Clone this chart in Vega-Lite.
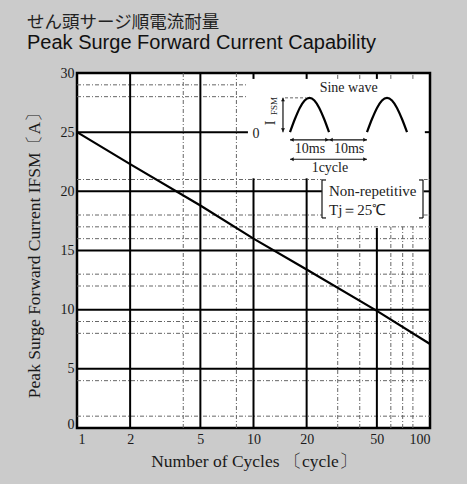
{
  "$schema": "https://vega.github.io/schema/vega-lite/v6.json",
  "width": 353,
  "height": 355,
  "autosize": {"type": "none"},
  "padding": {"left": 77, "top": 73, "right": 37, "bottom": 56},
  "background": "#cbcbcb",
  "title": {
    "text": "せん頭サージ順電流耐量",
    "subtitle": "Peak Surge Forward Current Capability",
    "anchor": "start",
    "frame": "group",
    "dx": -50,
    "offset": 13,
    "font": "Noto Sans CJK JP",
    "fontSize": 17.5,
    "fontWeight": "normal",
    "color": "#222",
    "subtitleFont": "Liberation Sans",
    "subtitleFontSize": 20,
    "subtitleColor": "#111",
    "subtitlePadding": 2
  },
  "config": {
    "view": {"fill": "white", "stroke": "#000", "strokeWidth": 2.5},
    "axis": {
      "labelFont": "Liberation Serif",
      "labelFontSize": 14,
      "labelColor": "#1a1a1a",
      "titleFont": "Liberation Serif",
      "titleFontSize": 17.5,
      "titleFontWeight": "normal",
      "titleColor": "#1a1a1a",
      "ticks": false,
      "domain": false,
      "grid": false
    }
  },
  "encoding": {
    "x": {
      "field": "x", "type": "quantitative",
      "scale": {"type": "log", "domain": [1, 100], "nice": false},
      "axis": {
        "values": [1, 2, 5, 10, 20, 50, 100],
        "format": "d",
        "title": "Number of Cycles 〔cycle〕",
        "labelPadding": 4,
        "titlePadding": 6,
        "labelOffset": {"condition": {"test": "datum.value == 1", "value": 1}, "value": 0}
      }
    },
    "y": {
      "field": "y", "type": "quantitative",
      "scale": {"domain": [0, 30], "nice": false},
      "axis": {
        "values": [0, 5, 10, 15, 20, 25, 30],
        "title": "Peak Surge Forward Current  IFSM〔A〕",
        "labelPadding": 3,
        "titlePadding": 17,
        "labelOffset": {"condition": {"test": "datum.value == 0", "value": -4}, "value": 0}
      }
    }
  },
  "datasets": {
    "curve": [
      {"x": 1, "y": 25},
      {"x": 2, "y": 22.3},
      {"x": 5, "y": 18.8},
      {"x": 10, "y": 16.0},
      {"x": 20, "y": 13.4},
      {"x": 50, "y": 9.9},
      {"x": 100, "y": 7.1}
    ],
    "minorH": [
      {"y": 1, "x": 1, "x2": 100},
      {"y": 4, "x": 1, "x2": 100},
      {"y": 8, "x": 1, "x2": 100},
      {"y": 9, "x": 1, "x2": 100},
      {"y": 12, "x": 1, "x2": 100},
      {"y": 13, "x": 1, "x2": 100},
      {"y": 16, "x": 1, "x2": 100},
      {"y": 17, "x": 1, "x2": 100},
      {"y": 18, "x": 1, "x2": 24.4},
      {"y": 18, "x": 92, "x2": 100},
      {"y": 21, "x": 1, "x2": 24.4},
      {"y": 21, "x": 92, "x2": 100},
      {"y": 28, "x": 1, "x2": 9.3},
      {"y": 29, "x": 1, "x2": 9.3}
    ],
    "minorV": [
      {"x": 4, "y": 0, "y2": 30},
      {"x": 8, "y": 0, "y2": 30},
      {"x": 30, "y": 0, "y2": 17},
      {"x": 40, "y": 0, "y2": 17},
      {"x": 60, "y": 0, "y2": 17},
      {"x": 70, "y": 0, "y2": 17},
      {"x": 80, "y": 0, "y2": 17},
      {"x": 30, "y": 29.5, "y2": 30},
      {"x": 40, "y": 29.5, "y2": 30},
      {"x": 60, "y": 29.5, "y2": 30},
      {"x": 80, "y": 29.5, "y2": 30}
    ],
    "majorH": [
      {"y": 5, "x": 1, "x2": 100},
      {"y": 10, "x": 1, "x2": 100},
      {"y": 15, "x": 1, "x2": 100},
      {"y": 20, "x": 1, "x2": 24.4},
      {"y": 20, "x": 92, "x2": 100},
      {"y": 25, "x": 1, "x2": 9.3},
      {"y": 25, "x": 93.5, "x2": 100}
    ],
    "majorV": [
      {"x": 2, "y": 0, "y2": 30},
      {"x": 5, "y": 0, "y2": 30},
      {"x": 10, "y": 0, "y2": 21.1},
      {"x": 10, "y": 29.5, "y2": 30},
      {"x": 20, "y": 0, "y2": 21.1},
      {"x": 20, "y": 29.5, "y2": 30},
      {"x": 50, "y": 0, "y2": 16.9},
      {"x": 50, "y": 29.5, "y2": 30}
    ],
    "annoRules": [
      {"x": 14.69, "x2": 14.69, "y": 25.0, "y2": 27.9},
      {"x": 16.1, "x2": 26.78, "y": 24.35, "y2": 24.35},
      {"x": 26.78, "x2": 43.96, "y": 24.35, "y2": 24.35},
      {"x": 16.1, "x2": 43.96, "y": 22.71, "y2": 22.71},
      {"x": 24.44, "x2": 24.44, "y": 17.75, "y2": 20.96},
      {"x": 24.44, "x2": 25.75, "y": 20.96, "y2": 20.96},
      {"x": 24.44, "x2": 25.75, "y": 17.75, "y2": 17.75},
      {"x": 91.27, "x2": 91.27, "y": 17.75, "y2": 20.96},
      {"x": 86.65, "x2": 91.27, "y": 20.96, "y2": 20.96},
      {"x": 86.65, "x2": 91.27, "y": 17.75, "y2": 17.75}
    ],
    "annoDash": [
      {"x": 15.09, "x2": 19.84, "y": 27.9, "y2": 27.9}
    ],
    "humps": [
      {"hump": 1, "x": 16.10, "y": 25.0},
      {"hump": 1, "x": 17.16, "y": 26.11},
      {"hump": 1, "x": 18.28, "y": 27.05},
      {"hump": 1, "x": 19.49, "y": 27.68},
      {"hump": 1, "x": 20.77, "y": 27.9},
      {"hump": 1, "x": 22.13, "y": 27.68},
      {"hump": 1, "x": 23.58, "y": 27.05},
      {"hump": 1, "x": 25.13, "y": 26.11},
      {"hump": 1, "x": 26.78, "y": 25.0},
      {"hump": 2, "x": 43.96, "y": 25.0},
      {"hump": 2, "x": 46.92, "y": 26.11},
      {"hump": 2, "x": 50.09, "y": 27.05},
      {"hump": 2, "x": 53.46, "y": 27.68},
      {"hump": 2, "x": 57.07, "y": 27.9},
      {"hump": 2, "x": 60.91, "y": 27.68},
      {"hump": 2, "x": 65.02, "y": 27.05},
      {"hump": 2, "x": 69.40, "y": 26.11},
      {"hump": 2, "x": 74.08, "y": 25.0}
    ],
    "heads": [
      {"x": 16.52, "y": 24.35, "dir": "left"},
      {"x": 26.09, "y": 24.35, "dir": "right"},
      {"x": 27.49, "y": 24.35, "dir": "left"},
      {"x": 42.82, "y": 24.35, "dir": "right"},
      {"x": 16.52, "y": 22.71, "dir": "left"},
      {"x": 42.82, "y": 22.71, "dir": "right"},
      {"x": 14.69, "y": 27.75, "dir": "up"},
      {"x": 14.69, "y": 25.19, "dir": "down"}
    ],
    "textsC": [
      {"x": 34.6, "y": 28.7, "t": "Sine wave"},
      {"x": 20.9, "y": 23.58, "t": "10ms"},
      {"x": 34.8, "y": 23.58, "t": "10ms"},
      {"x": 27.1, "y": 21.98, "t": "1cycle"},
      {"x": 10.33, "y": 24.85, "t": "0"}
    ],
    "textsL": [
      {"x": 26.78, "y": 20.0, "t": "Non-repetitive"},
      {"x": 26.78, "y": 18.45, "t": "Tj＝25℃"}
    ],
    "textI": [{"x": 12.57, "y": 25.78, "t": "I"}],
    "textFSM": [{"x": 13.07, "y": 27.22, "t": "FSM"}]
  },
  "layer": [
    {
      "data": {"name": "minorH"},
      "mark": {"type": "rule", "stroke": "#666", "strokeWidth": 1, "strokeDash": [4, 2, 1, 2]},
      "encoding": {"x2": {"field": "x2"}}
    },
    {
      "data": {"name": "minorV"},
      "mark": {"type": "rule", "stroke": "#666", "strokeWidth": 1, "strokeDash": [4, 2, 1, 2]},
      "encoding": {"y2": {"field": "y2"}}
    },
    {
      "data": {"name": "majorH"},
      "mark": {"type": "rule", "stroke": "#000", "strokeWidth": 2},
      "encoding": {"x2": {"field": "x2"}}
    },
    {
      "data": {"name": "majorV"},
      "mark": {"type": "rule", "stroke": "#000", "strokeWidth": 2},
      "encoding": {"y2": {"field": "y2"}}
    },
    {
      "data": {"name": "curve"},
      "mark": {"type": "line", "stroke": "#000", "strokeWidth": 2.2},
      "encoding": {}
    },
    {
      "data": {"name": "annoRules"},
      "mark": {"type": "rule", "stroke": "#111", "strokeWidth": 1.2},
      "encoding": {"x2": {"field": "x2"}, "y2": {"field": "y2"}}
    },
    {
      "data": {"name": "annoDash"},
      "mark": {"type": "rule", "stroke": "#666", "strokeWidth": 1, "strokeDash": [3, 2]},
      "encoding": {"x2": {"field": "x2"}, "y2": {"field": "y2"}}
    },
    {
      "data": {"name": "humps"},
      "mark": {"type": "line", "stroke": "#000", "strokeWidth": 2.2, "interpolate": "monotone"},
      "encoding": {"detail": {"field": "hump", "type": "nominal"}}
    },
    {
      "data": {"name": "heads"},
      "mark": {"type": "point", "filled": true, "color": "#111", "size": 16, "opacity": 1},
      "encoding": {
        "shape": {
          "field": "dir", "type": "nominal", "legend": null,
          "scale": {"domain": ["left", "right", "up", "down"], "range": ["triangle-left", "triangle-right", "triangle-up", "triangle-down"]}
        }
      }
    },
    {
      "data": {"name": "textsC"},
      "mark": {"type": "text", "font": "Liberation Serif", "fontSize": 14, "color": "#222", "align": "center", "baseline": "middle"},
      "encoding": {"text": {"field": "t", "type": "nominal"}}
    },
    {
      "data": {"name": "textsL"},
      "mark": {"type": "text", "font": "Liberation Serif", "fontSize": 15, "color": "#222", "align": "left", "baseline": "middle"},
      "encoding": {"text": {"field": "t", "type": "nominal"}}
    },
    {
      "data": {"name": "textI"},
      "mark": {"type": "text", "font": "Liberation Serif", "fontSize": 14, "color": "#222", "align": "center", "baseline": "middle", "angle": 270},
      "encoding": {"text": {"field": "t", "type": "nominal"}}
    },
    {
      "data": {"name": "textFSM"},
      "mark": {"type": "text", "font": "Liberation Serif", "fontSize": 9, "color": "#222", "align": "center", "baseline": "middle", "angle": 270},
      "encoding": {"text": {"field": "t", "type": "nominal"}}
    }
  ]
}
